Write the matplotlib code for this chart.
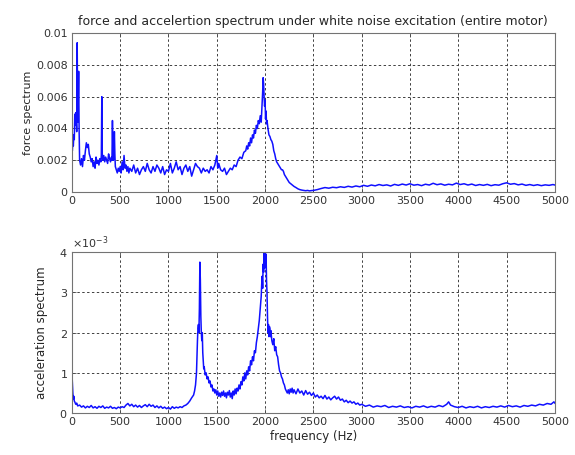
import matplotlib
matplotlib.use("Agg")
import matplotlib.pyplot as plt
from matplotlib.ticker import ScalarFormatter, FuncFormatter

# ---------------- data ----------------
# force spectrum: frequency (Hz) and amplitude (x 1e-3)
force_freq = [
    0, 5, 10, 15, 20, 25, 30, 35, 40, 45,
    50, 55, 60, 65, 70, 75, 80, 90, 100, 110,
    120, 130, 140, 150, 160, 170, 180, 190, 200, 210,
    220, 230, 240, 250, 260, 270, 280, 290, 300, 305,
    310, 315, 320, 330, 340, 350, 360, 370, 380, 390,
    400, 410, 415, 420, 425, 430, 435, 440, 445, 450,
    460, 470, 480, 490, 500, 510, 520, 530, 540, 550,
    560, 570, 580, 590, 600, 620, 640, 660, 680, 700,
    720, 740, 760, 780, 800, 820, 840, 860, 880, 900,
    920, 940, 960, 980, 1000, 1020, 1040, 1060, 1080, 1100,
    1120, 1140, 1160, 1180, 1200, 1220, 1240, 1260, 1280, 1300,
    1320, 1340, 1360, 1380, 1400, 1420, 1440, 1460, 1480, 1500,
    1510, 1520, 1540, 1560, 1580, 1600, 1620, 1640, 1660, 1680,
    1700, 1720, 1740, 1760, 1780, 1800, 1810, 1820, 1830, 1840,
    1850, 1860, 1870, 1880, 1890, 1900, 1910, 1920, 1930, 1940,
    1950, 1960, 1970, 1975, 1980, 1985, 1990, 1995, 2000, 2005,
    2010, 2015, 2020, 2030, 2040, 2050, 2060, 2070, 2080, 2090,
    2100, 2110, 2120, 2130, 2140, 2150, 2160, 2170, 2180, 2190,
    2200, 2210, 2220, 2230, 2240, 2250, 2260, 2270, 2280, 2290,
    2300, 2320, 2340, 2360, 2380, 2400, 2420, 2440, 2460, 2480,
    2500, 2540, 2580, 2620, 2660, 2700, 2740, 2780, 2820, 2860,
    2900, 2940, 2980, 3020, 3060, 3100, 3140, 3180, 3220, 3260,
    3300, 3340, 3380, 3420, 3460, 3500, 3540, 3580, 3620, 3660,
    3700, 3740, 3780, 3820, 3860, 3900, 3940, 3980, 4020, 4060,
    4100, 4140, 4180, 4220, 4260, 4300, 4340, 4380, 4420, 4460,
    4500, 4540, 4580, 4620, 4660, 4700, 4740, 4780, 4820, 4860,
    4900, 4940, 4980, 5000,
]
force_val = [
    2.8, 2.6, 3.2, 2.9, 3.6, 3.3, 4.9, 4.2, 5.0, 4.6,
    3.8, 9.4, 4.4, 5.2, 7.6, 3.9, 2.0, 1.7, 2.1, 1.6,
    2.3, 2.0, 2.6, 3.1, 2.8, 3.0, 2.4, 2.2, 1.9, 2.1,
    1.6, 1.9, 1.5, 2.2, 1.8, 2.0, 1.7, 2.1, 1.9, 2.3,
    6.0, 2.2, 2.0, 2.3, 1.9, 2.2, 2.0, 1.8, 2.4, 2.1,
    1.9, 2.2, 2.0, 4.5, 2.3, 2.0, 2.6, 3.8, 2.4, 1.6,
    1.4, 1.2, 1.5, 1.3, 1.6, 1.2, 1.9, 1.4, 2.3, 1.5,
    1.7, 1.3, 1.6, 1.2, 1.5, 1.3, 1.7, 1.2, 1.5, 1.1,
    1.4, 1.6, 1.3, 1.8, 1.4, 1.2, 1.6, 1.3, 1.7, 1.5,
    1.2, 1.6, 1.1, 1.4, 1.3, 1.8, 1.2, 1.5, 1.9, 1.4,
    1.6, 1.1, 1.5, 1.7, 1.3, 1.6, 1.0, 1.4, 1.8, 1.6,
    1.5, 1.2, 1.5, 1.3, 1.4, 1.2, 1.6, 1.4, 1.7, 2.3,
    1.5, 1.8, 1.4, 1.3, 1.5, 1.1, 1.3, 1.5, 1.4, 1.7,
    1.6, 2.0, 2.2, 2.1, 2.5, 2.6, 2.9, 2.7, 3.1, 2.9,
    3.4, 3.1, 3.6, 3.4, 3.9, 3.7, 4.2, 4.0, 4.5, 4.3,
    4.8, 4.4, 5.6, 6.3, 7.2, 6.8, 6.0, 5.4, 5.8, 4.6,
    5.1, 4.3, 4.5, 4.0, 3.6, 3.5, 3.3, 3.2, 3.0, 2.6,
    2.4, 2.1, 1.9, 1.8, 1.7, 1.6, 1.5, 1.4, 1.4, 1.3,
    1.1, 1.0, 0.9, 0.8, 0.7, 0.6, 0.55, 0.5, 0.45, 0.4,
    0.35, 0.28, 0.2, 0.15, 0.12, 0.1, 0.08, 0.1, 0.07, 0.09,
    0.1, 0.15, 0.22, 0.28, 0.24, 0.3, 0.27, 0.33, 0.29, 0.36,
    0.31, 0.38, 0.33, 0.42, 0.36, 0.44, 0.39, 0.47, 0.41, 0.45,
    0.38, 0.48, 0.42, 0.5, 0.44, 0.52, 0.43, 0.47, 0.4, 0.49,
    0.44, 0.55, 0.46, 0.51, 0.43, 0.49, 0.45, 0.56, 0.47, 0.52,
    0.44, 0.5, 0.41, 0.47, 0.42, 0.48, 0.4, 0.46, 0.43, 0.52,
    0.58, 0.49, 0.53, 0.45, 0.5, 0.42, 0.47, 0.41, 0.46, 0.4,
    0.45, 0.42, 0.47, 0.44,
]

# acceleration spectrum: frequency (Hz) and amplitude (x 1e-3)
accel_freq = [
    0, 5, 10, 15, 20, 25, 30, 40, 50, 60,
    80, 100, 120, 140, 160, 180, 200, 220, 240, 260,
    280, 300, 320, 340, 360, 380, 400, 420, 440, 460,
    480, 500, 520, 540, 560, 580, 600, 620, 640, 660,
    680, 700, 720, 740, 760, 780, 800, 820, 840, 860,
    880, 900, 920, 940, 960, 980, 1000, 1020, 1040, 1060,
    1080, 1100, 1120, 1140, 1160, 1180, 1200, 1220, 1240, 1260,
    1270, 1280, 1290, 1295, 1300, 1305, 1310, 1315, 1320, 1325,
    1330, 1335, 1340, 1345, 1350, 1355, 1360, 1365, 1370, 1380,
    1390, 1400, 1410, 1420, 1430, 1440, 1450, 1460, 1470, 1480,
    1490, 1500, 1510, 1520, 1530, 1540, 1550, 1560, 1570, 1580,
    1590, 1600, 1610, 1620, 1630, 1640, 1650, 1660, 1670, 1680,
    1690, 1700, 1710, 1720, 1730, 1740, 1750, 1760, 1770, 1780,
    1790, 1800, 1810, 1820, 1830, 1840, 1850, 1860, 1870, 1880,
    1890, 1900, 1910, 1920, 1930, 1940, 1950, 1960, 1965, 1970,
    1975, 1980, 1985, 1990, 1995, 2000, 2005, 2010, 2015, 2020,
    2025, 2030, 2035, 2040, 2045, 2050, 2055, 2060, 2070, 2080,
    2090, 2100, 2110, 2120, 2130, 2140, 2150, 2160, 2170, 2180,
    2190, 2200, 2210, 2220, 2230, 2240, 2250, 2260, 2270, 2280,
    2290, 2300, 2320, 2340, 2360, 2380, 2400, 2420, 2440, 2460,
    2480, 2500, 2520, 2540, 2560, 2580, 2600, 2620, 2640, 2660,
    2680, 2700, 2720, 2740, 2760, 2780, 2800, 2820, 2840, 2860,
    2880, 2900, 2920, 2940, 2960, 2980, 3000, 3040, 3080, 3120,
    3160, 3200, 3240, 3280, 3320, 3360, 3400, 3440, 3480, 3520,
    3560, 3600, 3640, 3680, 3720, 3760, 3800, 3840, 3880, 3900,
    3920, 3960, 4000, 4040, 4080, 4120, 4160, 4200, 4240, 4280,
    4320, 4360, 4400, 4440, 4480, 4520, 4560, 4600, 4640, 4680,
    4720, 4760, 4800, 4840, 4880, 4920, 4960, 4990, 5000,
]
accel_val = [
    1.02, 0.75, 0.5, 0.35, 0.42, 0.3, 0.28, 0.22, 0.25, 0.18,
    0.2, 0.15, 0.18, 0.13, 0.17, 0.14, 0.19, 0.13, 0.16, 0.12,
    0.17, 0.14, 0.18, 0.12, 0.15, 0.13, 0.17, 0.12, 0.14, 0.11,
    0.15, 0.13, 0.16, 0.14, 0.2, 0.24, 0.18, 0.22, 0.16, 0.2,
    0.15, 0.19, 0.14, 0.18, 0.21, 0.16, 0.22, 0.17, 0.2, 0.14,
    0.18, 0.13, 0.17, 0.12, 0.15, 0.11, 0.14, 0.1, 0.16, 0.12,
    0.15, 0.13, 0.16, 0.14, 0.18, 0.2, 0.24, 0.3, 0.38, 0.45,
    0.55, 0.7, 1.0, 1.4, 1.8, 2.1, 2.2, 2.0, 2.6, 3.75,
    3.3, 2.4, 2.0, 1.8, 2.0, 1.5, 1.3, 1.1, 1.15, 0.95,
    1.0, 0.85, 0.9, 0.75, 0.8, 0.65, 0.7, 0.55, 0.6, 0.5,
    0.58, 0.45, 0.55, 0.42, 0.5, 0.4, 0.52, 0.44, 0.55, 0.42,
    0.5, 0.38, 0.52, 0.45, 0.56, 0.4, 0.5, 0.36, 0.55, 0.45,
    0.6, 0.48, 0.62, 0.55, 0.7, 0.6, 0.78, 0.7, 0.9, 0.8,
    1.0, 0.85, 1.05, 0.95, 1.15, 1.05, 1.3, 1.2, 1.4, 1.3,
    1.55, 1.5, 1.75, 1.9, 2.1, 2.3, 2.6, 2.9, 3.2, 3.4,
    3.1, 3.7, 3.5, 4.0, 3.6, 4.0, 3.7, 3.95, 3.3, 3.0,
    2.4, 2.0, 2.2, 1.9, 2.15, 2.1, 1.9, 2.05, 1.8, 1.7,
    1.85, 1.55, 1.65, 1.45, 1.4, 1.2, 1.05, 1.0, 0.9, 0.85,
    0.75, 0.7, 0.6, 0.55, 0.5, 0.58, 0.48, 0.6, 0.52, 0.62,
    0.5, 0.58, 0.48, 0.6, 0.5, 0.55, 0.45, 0.56, 0.47, 0.52,
    0.44, 0.5, 0.4, 0.45, 0.38, 0.42, 0.36, 0.44, 0.35, 0.4,
    0.33, 0.38, 0.42, 0.35, 0.4, 0.32, 0.35, 0.28, 0.32, 0.26,
    0.3, 0.25, 0.28, 0.22, 0.25, 0.2, 0.22, 0.17, 0.2, 0.15,
    0.18, 0.16, 0.19, 0.14, 0.17, 0.15, 0.18, 0.14, 0.16, 0.13,
    0.17, 0.15, 0.18, 0.14, 0.17, 0.15, 0.19, 0.16, 0.22, 0.28,
    0.2, 0.16, 0.14, 0.17, 0.13, 0.16, 0.14, 0.17, 0.13, 0.16,
    0.14, 0.17, 0.15, 0.18, 0.15, 0.19, 0.16, 0.18, 0.15, 0.19,
    0.17, 0.2, 0.18, 0.22, 0.2, 0.24, 0.22, 0.28, 0.25,
]

x_ticks = [0, 500, 1000, 1500, 2000, 2500, 3000, 3500, 4000, 4500, 5000]
force_ticks = [0, 0.002, 0.004, 0.006, 0.008, 0.01]
accel_ticks = [0, 0.001, 0.002, 0.003, 0.004]

title_text = "force and accelertion spectrum under white noise excitation (entire motor)"
force_label = "force spectrum"
accel_label = "acceleration spectrum"
x_label = "frequency (Hz)"

assert len(force_freq) == len(force_val)
assert len(accel_freq) == len(accel_val)

# ---------------- style ----------------
plt.rcParams["font.family"] = ["DejaVu Sans"]
line_color = "#1010ff"
grid_kw = dict(color="0.25", linestyle=(0, (2.5, 2.5)), linewidth=0.7)
tick_size = 8

fig = plt.figure(figsize=(5.75, 4.55), dpi=100)
ax1 = fig.add_axes([0.125, 0.578, 0.840, 0.349])
ax2 = fig.add_axes([0.125, 0.092, 0.840, 0.354])

ax1.plot(force_freq, [v * 1e-3 for v in force_val], color=line_color, linewidth=1.1)
ax2.plot(accel_freq, [v * 1e-3 for v in accel_val], color=line_color, linewidth=1.1)

ax1.set_xlim(0, 5000)
ax1.set_ylim(0, 0.01)
ax2.set_xlim(0, 5000)
ax2.set_ylim(0, 0.004)

ax1.set_yticks(force_ticks)
ax1.yaxis.set_major_formatter(FuncFormatter(lambda v, p: "%g" % round(v, 4)))
ax2.set_yticks(accel_ticks)
fmt = ScalarFormatter(useMathText=True)
fmt.set_powerlimits((-2, 2))
ax2.yaxis.set_major_formatter(fmt)

for ax in (ax1, ax2):
    ax.set_xticks(x_ticks)
    ax.grid(True, **grid_kw)
    ax.tick_params(direction="in", length=3, width=0.6, color="0.3",
                   top=True, right=True, pad=3, labelsize=tick_size,
                   labelcolor="0.2")
    for sp in ax.spines.values():
        sp.set_color("0.45")
        sp.set_linewidth(0.8)

ax2.yaxis.get_offset_text().set_fontsize(8)
ax2.yaxis.get_offset_text().set_color("0.2")

ax1.set_title(title_text, fontsize=9, color="0.15", pad=6)
ax1.set_ylabel(force_label, fontsize=8, color="0.15", labelpad=2)
ax2.set_ylabel(accel_label, fontsize=8.5, color="0.15", labelpad=8)
ax2.set_xlabel(x_label, fontsize=8.5, color="0.15", labelpad=2)

fig.savefig("out.png", dpi=100)
